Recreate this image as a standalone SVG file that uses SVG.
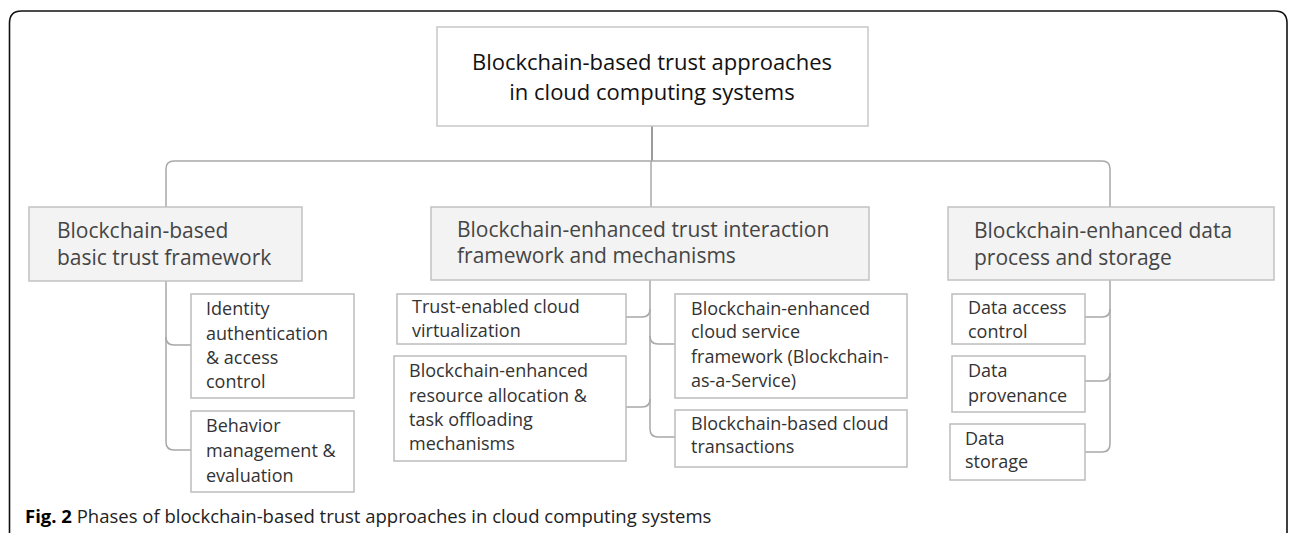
<svg xmlns="http://www.w3.org/2000/svg" width="1295" height="533" viewBox="0 0 1295 533">
<style>
text{font-family:"Open Sans","Noto Sans",sans-serif}
.root{fill:#fff;stroke:#c8c8c8;stroke-width:1.5}
.l1{fill:#f3f3f3;stroke:#c2c2c2;stroke-width:1.5}
.l2{fill:#fff;stroke:#bcbcbc;stroke-width:1.5}
.t0{font-size:22px;fill:#111}
.t1{font-size:21px;fill:#454545}
.t2{font-size:18px;fill:#333}
.c{fill:none;stroke:#a8a8a8;stroke-width:1.5}
.cap{font-size:18.5px;fill:#222}
</style>
<rect width="1295" height="533" fill="#fff"/>
<path d="M9.5,535 V23 Q9.5,11 21.5,11 H1275 Q1287,11 1287,23 V535" fill="none" stroke="#111" stroke-width="1.6"/>
<g id="connectors">
<path d="M652,126 V161" fill="none" stroke="#7a7a7a" stroke-width="1.5"/>
<path class="c" d="M166,207 V169 Q166,161 174,161 H1102 Q1110,161 1110,169 V207"/>
<path class="c" d="M651,161 V207"/>
<path class="c" d="M166,281 V442 Q166,450 174,450 H191"/>
<path class="c" d="M166,337 Q166,345 174,345 H191"/>
<path class="c" d="M650,280 V429 Q650,437 658,437 H675"/>
<path class="c" d="M650,309 Q650,317 642,317 H626"/>
<path class="c" d="M650,399 Q650,407 642,407 H626"/>
<path class="c" d="M650,336 Q650,344 658,344 H675"/>
<path class="c" d="M1110,280 V444 Q1110,452 1102,452 H1085"/>
<path class="c" d="M1110,309 Q1110,317 1102,317 H1085"/>
<path class="c" d="M1110,373 Q1110,381 1102,381 H1085"/>
</g>
<g id="root">
<rect class="root" x="437" y="27" width="431" height="99"/>
<text class="t0" x="652" y="70" text-anchor="middle">Blockchain-based trust approaches</text>
<text class="t0" x="652" y="100" text-anchor="middle">in cloud computing systems</text>
</g>
<g id="basic">
<rect class="l1" x="29" y="207" width="273" height="74"/>
<text class="t1" x="57" y="238">Blockchain-based</text>
<text class="t1" x="57" y="265">basic trust framework</text>
</g>
<g id="interaction">
<rect class="l1" x="431" y="207" width="438" height="73"/>
<text class="t1" x="457" y="237">Blockchain-enhanced trust interaction</text>
<text class="t1" x="457" y="263">framework and mechanisms</text>
</g>
<g id="data">
<rect class="l1" x="948" y="207" width="326" height="73"/>
<text class="t1" x="974" y="238">Blockchain-enhanced data</text>
<text class="t1" x="974" y="265">process and storage</text>
</g>
<g id="identity">
<rect class="l2" x="191" y="294" width="163" height="104"/>
<text class="t2" x="206" y="315">Identity</text>
<text class="t2" x="206" y="340">authentication</text>
<text class="t2" x="206" y="364">&amp; access</text>
<text class="t2" x="206" y="388">control</text>
</g>
<g id="behavior">
<rect class="l2" x="191" y="411" width="163" height="81"/>
<text class="t2" x="206" y="432">Behavior</text>
<text class="t2" x="206" y="457">management &amp;</text>
<text class="t2" x="206" y="482">evaluation</text>
</g>
<g id="virtualization">
<rect class="l2" x="397" y="294" width="229" height="50"/>
<text class="t2" x="412" y="313">Trust-enabled cloud</text>
<text class="t2" x="412" y="337">virtualization</text>
</g>
<g id="resource">
<rect class="l2" x="394" y="356" width="232" height="105"/>
<text class="t2" x="409" y="377">Blockchain-enhanced</text>
<text class="t2" x="409" y="402">resource allocation &amp;</text>
<text class="t2" x="409" y="426">task offloading</text>
<text class="t2" x="409" y="450">mechanisms</text>
</g>
<g id="service">
<rect class="l2" x="675" y="294" width="232" height="104"/>
<text class="t2" x="691" y="315">Blockchain-enhanced</text>
<text class="t2" x="691" y="338">cloud service</text>
<text class="t2" x="691" y="363">framework (Blockchain-</text>
<text class="t2" x="691" y="387">as-a-Service)</text>
</g>
<g id="transactions">
<rect class="l2" x="675" y="410" width="232" height="57"/>
<text class="t2" x="691" y="430">Blockchain-based cloud</text>
<text class="t2" x="691" y="453">transactions</text>
</g>
<g id="access">
<rect class="l2" x="952" y="294" width="133" height="50"/>
<text class="t2" x="968" y="314">Data access</text>
<text class="t2" x="968" y="338">control</text>
</g>
<g id="provenance">
<rect class="l2" x="952" y="356" width="133" height="56"/>
<text class="t2" x="968" y="377">Data</text>
<text class="t2" x="968" y="402">provenance</text>
</g>
<g id="storage">
<rect class="l2" x="950" y="424" width="135" height="56"/>
<text class="t2" x="965" y="445">Data</text>
<text class="t2" x="965" y="468">storage</text>
</g>
<text class="cap" x="25" y="523"><tspan font-weight="bold" fill="#000">Fig. 2</tspan> Phases of blockchain-based trust approaches in cloud computing systems</text>
</svg>
